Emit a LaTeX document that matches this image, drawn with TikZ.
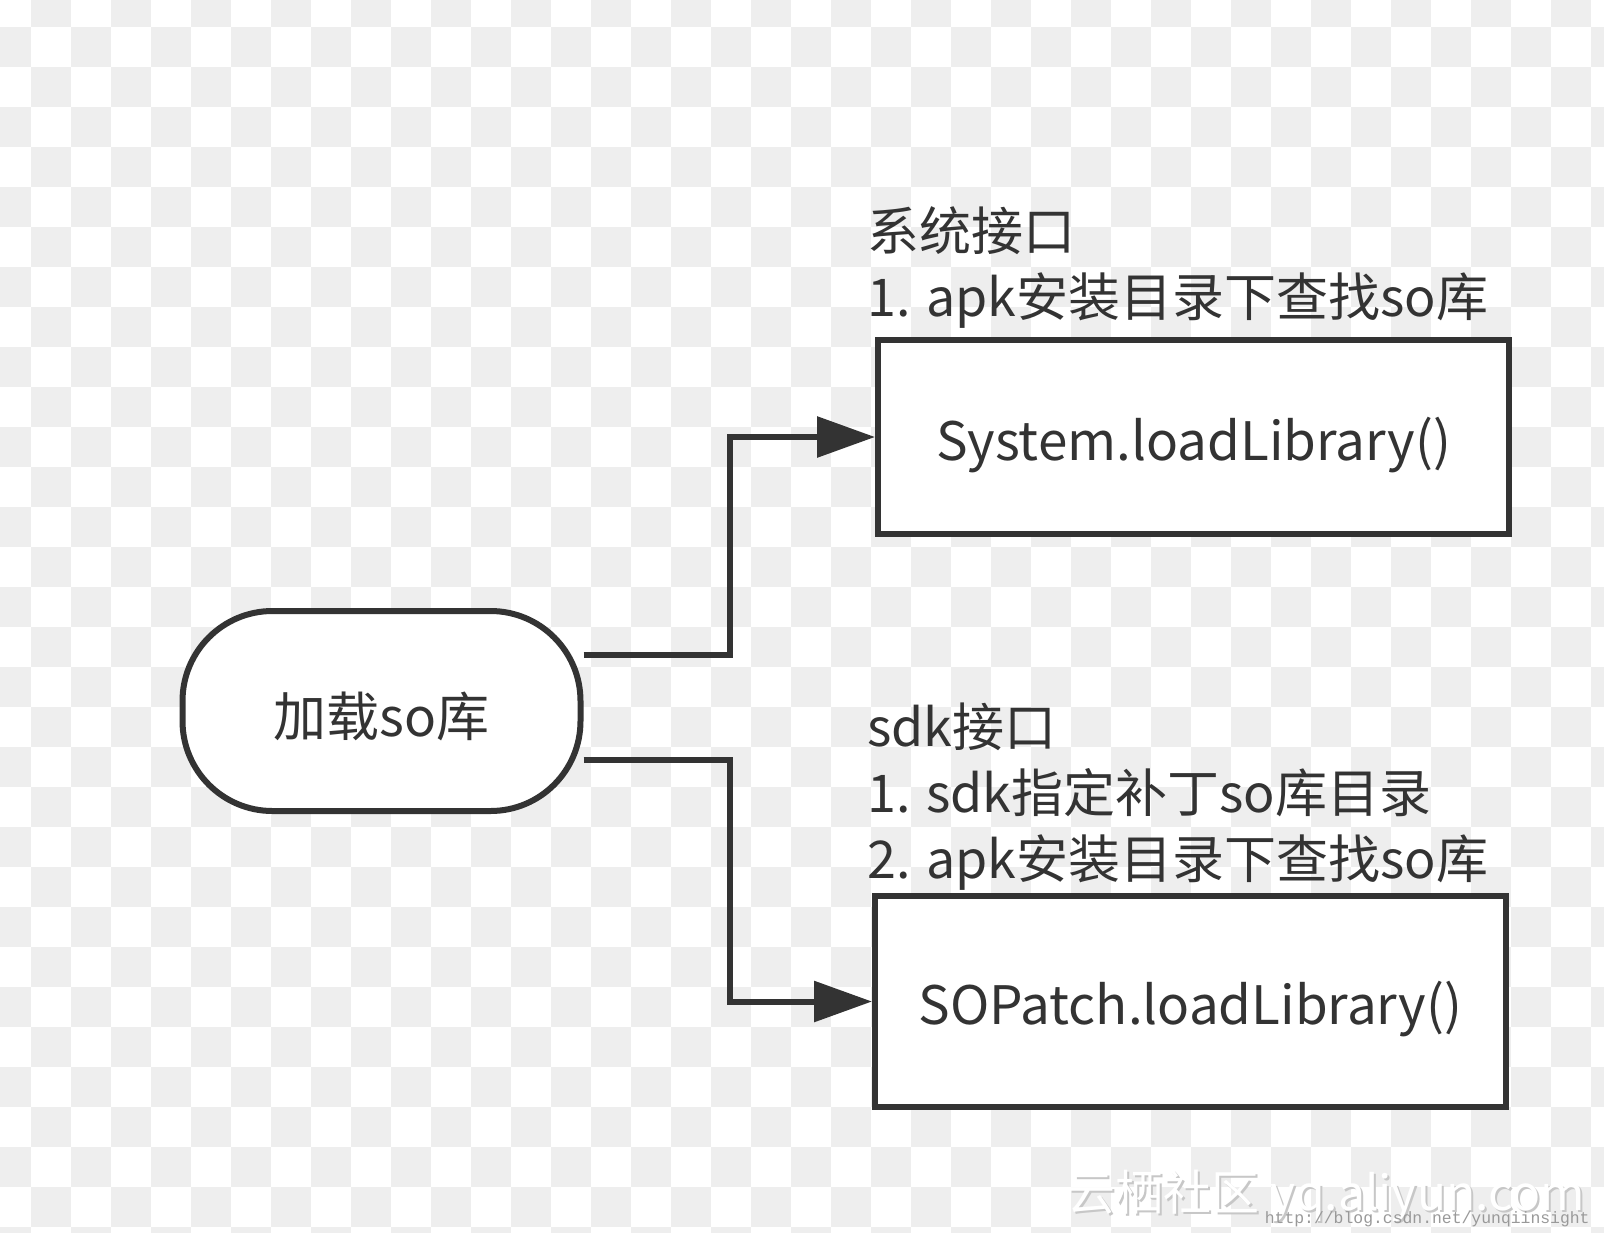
\documentclass[tikz,border=0pt]{standalone}
\usepackage{fontspec}
\setmainfont{Noto Sans CJK SC}
\newfontfamily\urlfont{Liberation Mono}
\usetikzlibrary{arrows.meta}
\definecolor{ink}{HTML}{333333}
\definecolor{chk}{HTML}{EEEEEE}
\tikzset{
  box/.style={draw=ink, line width=3pt, fill=white, minimum width=315.5pt, inner sep=0pt, text height=23pt, text depth=0pt},
  startnode/.style={draw=ink, line width=3pt, fill=white, rounded corners=45pt, minimum width=199pt, minimum height=100pt, inner sep=0pt, text height=25pt, text depth=0pt},
  lbl/.style={text=ink, align=left, anchor=north west, inner sep=0pt, font=\fontsize{26pt}{33pt}\selectfont},
  boxtext/.style={text=ink, font=\fontsize{26.5pt}{30pt}\selectfont},
  conn/.style={draw=ink, line width=3pt, -{Triangle[length=29pt,width=20pt]}},
  wmtext/.style={anchor=base west, inner sep=0pt, font=\fontsize{24pt}{24pt}\selectfont},
}
\begin{document}
\begin{tikzpicture}[x=0.5pt,y=-0.5pt]
\useasboundingbox (0,0) rectangle (1604,1232);
\begin{scope}
\clip (0,0) rectangle (1604,1232);
\fill[white] (0,0) rectangle (1604,1232);
\foreach \j in {0,2,...,30} {
  \foreach \i in {1,3,...,41} {
    \fill[chk] (-9+40*\i,-13+40*\j) rectangle ++(40,40);
  }
}
\foreach \j in {1,3,...,31} {
  \foreach \i in {0,2,...,40} {
    \fill[chk] (-9+40*\i,-13+40*\j) rectangle ++(40,40);
  }
}
\end{scope}

% nodes
\node[startnode, boxtext] (start) at (381.5,711) {加载so库};
\node[box, minimum height=97pt, boxtext] (sys) at (1193.5,437) {System.loadLibrary()};
\node[box, minimum height=105.5pt, boxtext] (sop) at (1190.5,1001.5) {SOPatch.loadLibrary()};

% labels
\node[lbl] (syslbl) at (867,206) {系统接口\\1. apk安装目录下查找so库};
\node[lbl] (sdklbl) at (867,702) {sdk接口\\1. sdk指定补丁so库目录\\2. apk安装目录下查找so库};

% connectors
\draw[conn] ([yshift=28pt]start.east) -- ++(146,0) |- (sys.west);
\draw[conn] ([yshift=-24.5pt]start.east) -- ++(146,0) |- (sop.west);

% watermark
\node[wmtext, text=black!22] (wmshadow) at (1069,1212) {云栖社区 yq.aliyun.com};
\node[wmtext, text=white] (wm) at (1067,1210) {云栖社区 yq.aliyun.com};
\node[anchor=base east, inner sep=0pt, text=black!40, font=\urlfont\fontsize{8.2pt}{9pt}\selectfont] (url) at (1590,1223) {http://blog.csdn.net/yunqiinsight};
\end{tikzpicture}
\end{document}
